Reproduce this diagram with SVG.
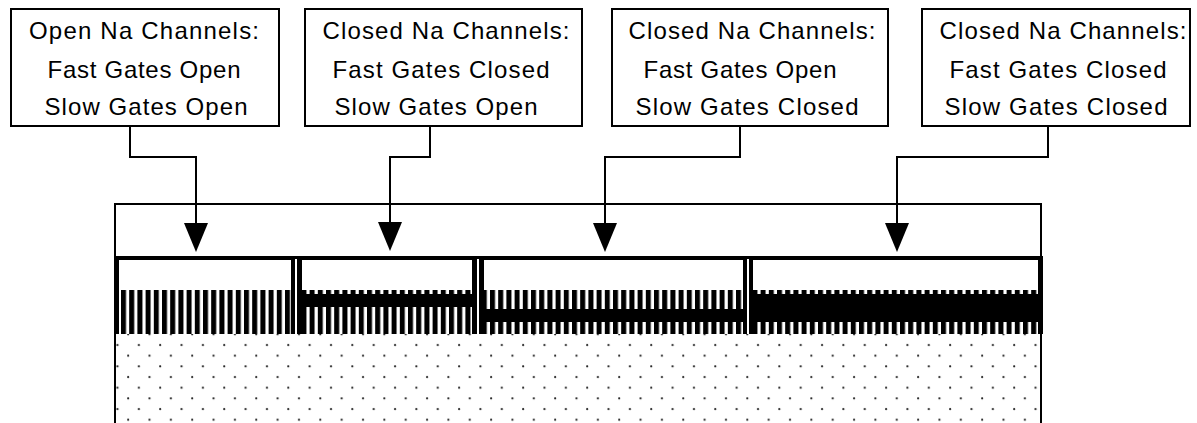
<svg xmlns="http://www.w3.org/2000/svg" width="1197" height="423" viewBox="0 0 1197 423">
  <style>
    .box { fill: #fff; stroke: #000; stroke-width: 2; }
    .lbl { font-family: "Liberation Sans", Arial, sans-serif; font-size: 24px; fill: #000; text-anchor: middle; }
    .wire { fill: none; stroke: #000; stroke-width: 2; }
    .head { fill: #000; }
    .blk { fill: #000; }
    .gap { fill: #fff; }
  </style>
  <defs>
    <pattern id="dots" patternUnits="userSpaceOnUse" x="112.5" y="340" width="21.35" height="21.35">
      <circle cx="5" cy="5" r="1.1" fill="#222"/>
      <circle cx="15.67" cy="15.67" r="1.1" fill="#222"/>
    </pattern>
    <pattern id="bars" patternUnits="userSpaceOnUse" x="121" y="0" width="8.2" height="423">
      <rect x="0" y="0" width="5" height="423" fill="#000"/>
    </pattern>
  </defs>
  <rect width="1197" height="423" fill="#fff"/>

  <g id="membrane">
    <rect x="116" y="334" width="924" height="89" fill="url(#dots)"/>
    <path d="M115,423 V204 H1041 V423" fill="none" stroke="#000" stroke-width="2"/>
    <rect class="blk" x="114" y="256" width="929" height="4"/>
  </g>

  <g id="seg1">
    <rect x="119" y="290" width="172" height="44" fill="url(#bars)"/>
    <rect class="blk" x="114" y="256" width="5" height="78"/>
    <rect class="blk" x="291" y="256" width="4" height="78"/>
  </g>
  <g id="seg2">
    <rect x="302" y="290" width="170" height="44" fill="url(#bars)"/>
    <rect class="blk" x="302" y="294" width="170" height="13"/>
    <rect class="blk" x="297" y="256" width="5" height="78"/>
    <rect class="blk" x="472" y="256" width="5" height="78"/>
  </g>
  <g id="seg3">
    <rect x="484" y="290" width="259" height="44" fill="url(#bars)"/>
    <rect class="blk" x="484" y="309" width="259" height="13"/>
    <rect class="blk" x="479" y="256" width="5" height="78"/>
    <rect class="blk" x="743" y="256" width="4" height="78"/>
  </g>
  <g id="seg4">
    <rect x="753" y="290" width="285" height="44" fill="url(#bars)"/>
    <rect class="blk" x="753" y="294" width="285" height="28"/>
    <rect class="blk" x="749" y="256" width="4" height="78"/>
    <rect class="blk" x="1038" y="256" width="5" height="78"/>
  </g>
  <g id="gaps">
    <rect class="gap" x="295" y="259" width="2" height="75"/>
    <rect class="gap" x="477" y="259" width="2" height="66"/>
    <rect class="gap" x="747" y="259" width="2" height="53"/>
  </g>

  <g id="connectors">
    <path class="wire" d="M130,126 V157 H196 V224"/>
    <polygon class="head" points="184,223 208,223 196,252"/>
    <path class="wire" d="M430,126 V157 H390 V224"/>
    <polygon class="head" points="378,222 402,222 390,251"/>
    <path class="wire" d="M740,126 V157 H605 V224"/>
    <polygon class="head" points="593,223 617,223 605,252"/>
    <path class="wire" d="M1048,126 V157 H897 V224"/>
    <polygon class="head" points="885,223 909,223 897,252"/>
  </g>

  <g id="box1">
    <rect class="box" x="11" y="9" width="268" height="117"/>
    <text class="lbl" x="144" y="39" textLength="230" lengthAdjust="spacing">Open Na Channels:</text>
    <text class="lbl" x="144" y="78" textLength="193" lengthAdjust="spacing">Fast Gates Open</text>
    <text class="lbl" x="146" y="115" textLength="203" lengthAdjust="spacing">Slow Gates Open</text>
  </g>
  <g id="box2">
    <rect class="box" x="305" y="9" width="277" height="117"/>
    <text class="lbl" x="446" y="39" textLength="247" lengthAdjust="spacing">Closed Na Channels:</text>
    <text class="lbl" x="441" y="78" textLength="217" lengthAdjust="spacing">Fast Gates Closed</text>
    <text class="lbl" x="436" y="115" textLength="203" lengthAdjust="spacing">Slow Gates Open</text>
  </g>
  <g id="box3">
    <rect class="box" x="612" y="9" width="276" height="117"/>
    <text class="lbl" x="752" y="39" textLength="247" lengthAdjust="spacing">Closed Na Channels:</text>
    <text class="lbl" x="740" y="78" textLength="193" lengthAdjust="spacing">Fast Gates Open</text>
    <text class="lbl" x="747" y="115" textLength="223" lengthAdjust="spacing">Slow Gates Closed</text>
  </g>
  <g id="box4">
    <rect class="box" x="922" y="9" width="268" height="117"/>
    <text class="lbl" x="1063" y="39" textLength="247" lengthAdjust="spacing">Closed Na Channels:</text>
    <text class="lbl" x="1058" y="78" textLength="217" lengthAdjust="spacing">Fast Gates Closed</text>
    <text class="lbl" x="1056" y="115" textLength="223" lengthAdjust="spacing">Slow Gates Closed</text>
  </g>
</svg>
